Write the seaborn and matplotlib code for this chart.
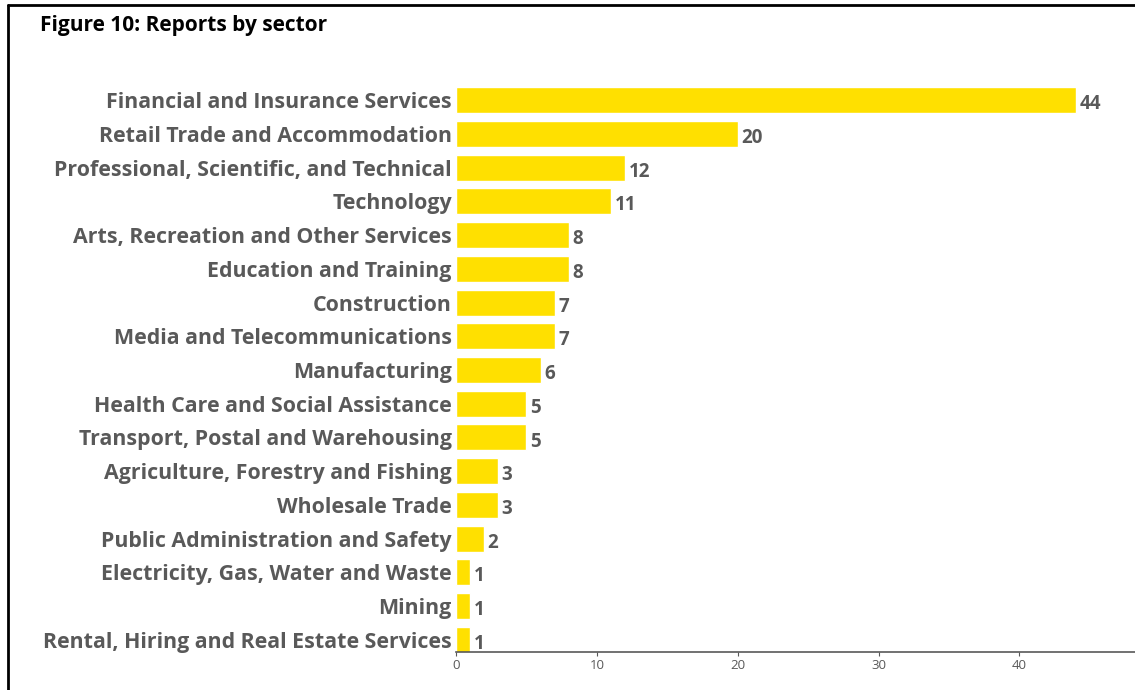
import matplotlib
matplotlib.use("Agg")
import matplotlib.pyplot as plt
from matplotlib.lines import Line2D
import seaborn as sns
import pandas as pd

sectors = [
    "Financial and Insurance Services",
    "Retail Trade and Accommodation",
    "Professional, Scientific, and Technical",
    "Technology",
    "Arts, Recreation and Other Services",
    "Education and Training",
    "Construction",
    "Media and Telecommunications",
    "Manufacturing",
    "Health Care and Social Assistance",
    "Transport, Postal and Warehousing",
    "Agriculture, Forestry and Fishing",
    "Wholesale Trade",
    "Public Administration and Safety",
    "Electricity, Gas, Water and Waste",
    "Mining",
    "Rental, Hiring and Real Estate Services",
]
reports = [44, 20, 12, 11, 8, 8, 7, 7, 6, 5, 5, 3, 3, 2, 1, 1, 1]
x_ticks = [0, 10, 20, 30, 40]

df = pd.DataFrame({"sector": sectors, "reports": reports})

sns.set_theme(style="white")
plt.rcParams["font.family"] = ["Open Sans", "DejaVu Sans"]

GREY = "#595959"
YELLOW = "#FFE000"

fig = plt.figure(figsize=(11.35, 6.9), dpi=100)
ax = fig.add_axes([456 / 1135, 1 - 652 / 690, 1 - 456 / 1135, (652 - 88) / 690])

sns.barplot(data=df, x="reports", y="sector", color=YELLOW, saturation=1,
            width=0.77, ax=ax, orient="h")

for i, v in enumerate(reports):
    ax.text(v + 0.25, i + 0.12, f"{v}", va="center", ha="left",
            fontsize=13.5, fontweight="bold", color=GREY)

ax.set_xlim(0, 48.2)
ax.set_ylim(16.36, -0.36)
ax.set_xticks(x_ticks)
ax.set_xticklabels([str(t) for t in x_ticks], fontsize=9.5, color=GREY)
ax.tick_params(axis="x", length=3, width=0.8, color=GREY, pad=2, bottom=True)
ax.tick_params(axis="y", length=0, pad=3)
for lab in ax.get_yticklabels():
    lab.set_fontsize(15.4)
    lab.set_fontweight("bold")
    lab.set_color(GREY)
ax.set_xlabel("")
ax.set_ylabel("")
for side in ["top", "right", "left"]:
    ax.spines[side].set_visible(False)
ax.spines["bottom"].set_color(GREY)
ax.spines["bottom"].set_linewidth(1.2)

fig.text(40 / 1135, 1 - 25 / 690, "Figure 10: Reports by sector", fontsize=15,
         fontweight="bold", color="black", va="center", ha="left")

# frame lines on the left and top edge
fig.add_artist(Line2D([8 / 1135, 8 / 1135], [0, 1 - 5 / 690], transform=fig.transFigure,
                      color="black", linewidth=2))
fig.add_artist(Line2D([8 / 1135, 1], [1 - 5 / 690, 1 - 5 / 690], transform=fig.transFigure,
                      color="black", linewidth=2))

fig.savefig("out.png", dpi=100, facecolor="white")
